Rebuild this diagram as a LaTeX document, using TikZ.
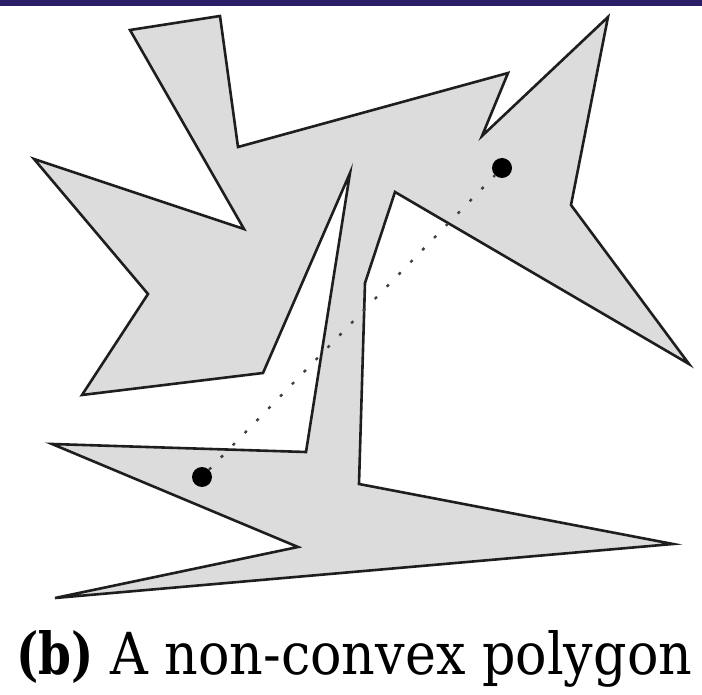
\documentclass[tikz,border=0pt]{standalone}
\usepackage{fontspec}
\setmainfont{DejaVu Serif}
\newfontfamily\capbold{DejaVu Serif Condensed Bold}
\definecolor{barcol}{RGB}{42,30,104}
\definecolor{polyfill}{RGB}{220,220,220}
\definecolor{polyline}{RGB}{30,30,30}
\begin{document}
\begin{tikzpicture}[x=1pt,y=-1pt,
  polystyle/.style={fill=polyfill,draw=polyline,line width=2.6pt,line join=miter},
  ptstyle/.style={circle,fill=black,inner sep=0pt,minimum size=20pt},
  sightline/.style={draw=black!75,line width=2.4pt,dash pattern=on 3pt off 14pt}]
\useasboundingbox (0,0) rectangle (702,695);
\fill[barcol] (0,0) rectangle (702,6);
\draw[polystyle] (130,30) -- (220,16) -- (238,147) -- (508,73) -- (482,136) -- (608,17)
  -- (571,205) -- (689,364) -- (395,192) -- (365,283) -- (359,484) -- (673,544)
  -- (55,598) -- (298,547) -- (52,444) -- (306,452) -- (350,173) -- (263,373)
  -- (82,395) -- (148,294) -- (34,159) -- (244,229) -- cycle;
\node[ptstyle] (p) at (202,477) {};
\node[ptstyle] (q) at (502,168) {};
\draw[sightline] (p) -- (q);
\node[anchor=base west,inner sep=0pt] (cap) at (16,674)
  {\resizebox{676pt}{44pt}{\fontsize{40}{48}\selectfont{\capbold (b)} A non-convex polygon}};
\end{tikzpicture}
\end{document}
